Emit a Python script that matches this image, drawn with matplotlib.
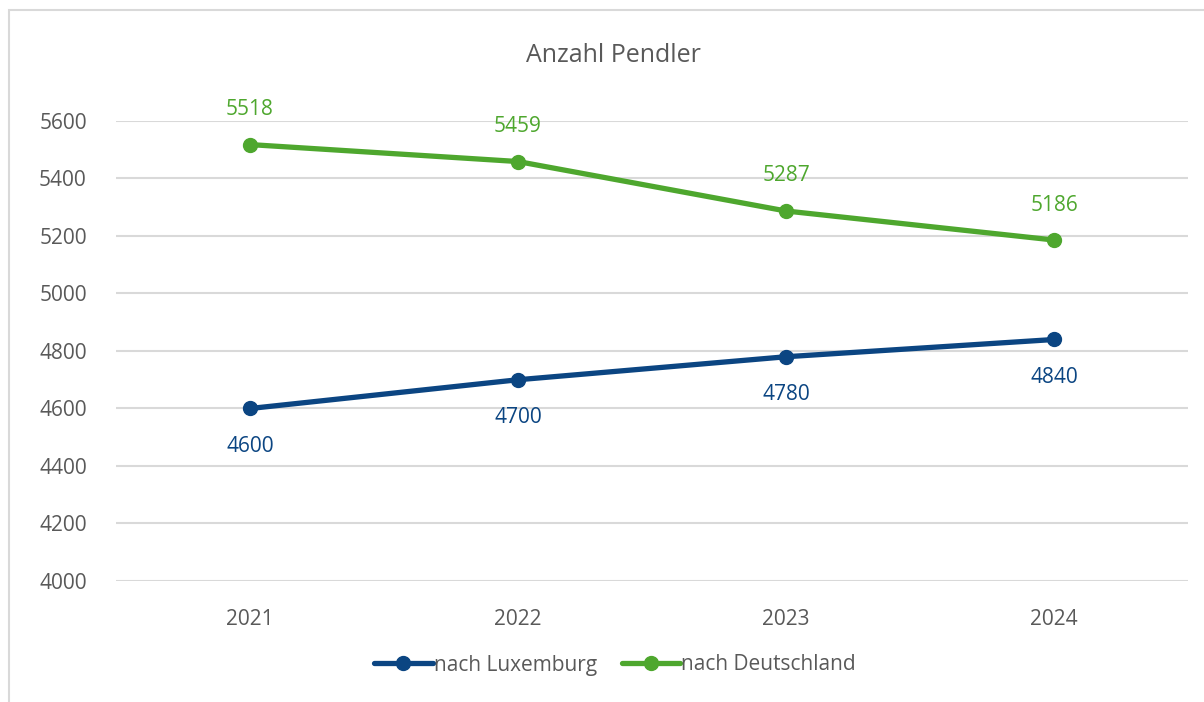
import matplotlib.pyplot as plt
from matplotlib.patches import Rectangle

years = ['2021', '2022', '2023', '2024']
luxemburg = [4600, 4700, 4780, 4840]
deutschland = [5518, 5459, 5287, 5186]

blue = '#0b4582'
green = '#4ea72e'
grey = '#595959'

plt.rcParams['font.family'] = ['Open Sans', 'DejaVu Sans']

fig = plt.figure(figsize=(12.04, 7.02), dpi=100)
ax = fig.add_axes([116 / 1204, 1 - 581 / 702, 1072 / 1204, 460 / 702])

# outer frame (cut off at right and bottom like the reference)
fig.patches.append(Rectangle((9 / 1204, -0.1), 1.2, 1.1 - 10 / 702, transform=fig.transFigure,
                             fill=False, edgecolor='#d9d9d9', linewidth=1.5))

x = range(len(years))
ax.plot(x, luxemburg, color=blue, lw=3.8, marker='o', ms=10, label='nach Luxemburg',
        solid_capstyle='round', clip_on=False, zorder=3)
ax.plot(x, deutschland, color=green, lw=3.8, marker='o', ms=10, label='nach Deutschland',
        solid_capstyle='round', clip_on=False, zorder=3)

for i, v in enumerate(luxemburg):
    ax.annotate(str(v), (i, v), xytext=(0, -38), textcoords='offset pixels',
                ha='center', va='center', color=blue, fontsize=15)
for i, v in enumerate(deutschland):
    ax.annotate(str(v), (i, v), xytext=(0, 35), textcoords='offset pixels',
                ha='center', va='center', color=green, fontsize=15)

ax.set_xlim(-0.5, 3.5)
ax.set_ylim(4000, 5600)
ax.set_yticks(range(4000, 5601, 200))
ax.set_xticks(list(x))
ax.set_xticklabels(years)
ax.tick_params(length=0, labelsize=15, labelcolor=grey)
ax.tick_params(axis='y', pad=21)
ax.tick_params(axis='x', pad=20)
ax.grid(axis='y', color='#d9d9d9', lw=1.5)
ax.set_axisbelow(True)
for s in ax.spines.values():
    s.set_visible(False)

fig.text(613 / 1204, 1 - 55 / 702, 'Anzahl Pendler', ha='center', va='center',
         fontsize=18, color=grey)

fig.legend(loc='center', bbox_to_anchor=(615 / 1204, 1 - 665 / 702), ncol=2, frameon=False,
           fontsize=15, labelcolor=grey, handlelength=2.8, handletextpad=0.05,
           columnspacing=1.2)

fig.savefig('out.png', dpi=100)
